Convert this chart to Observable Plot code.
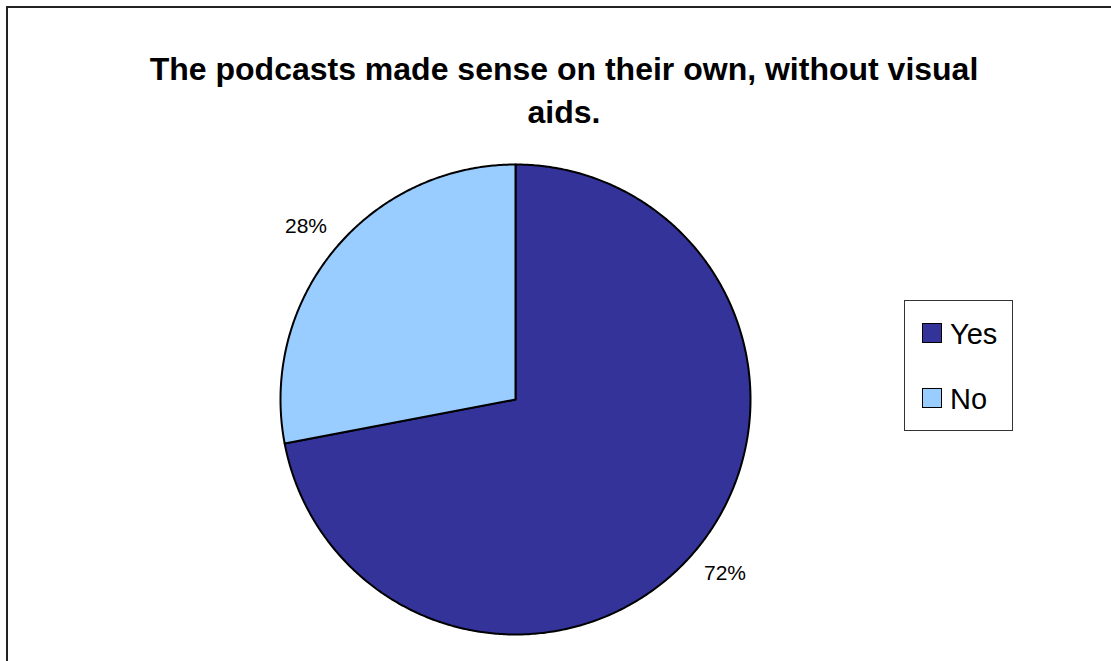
<!DOCTYPE html>
<html><head><meta charset="utf-8">
<script src="https://cdn.jsdelivr.net/npm/d3@7"></script>
<script src="https://cdn.jsdelivr.net/npm/@observablehq/plot@0.6"></script>
<style>
html,body{margin:0;padding:0;background:#fff;}
#wrap{position:relative;width:1111px;height:661px;overflow:hidden;font-family:"Liberation Sans",Arial,sans-serif;background:#fff;}
#frame{position:absolute;left:6px;top:6px;width:1200px;height:800px;border-left:2px solid #222;border-top:2px solid #222;}
#chart{position:absolute;left:0;top:0;}
#title{position:absolute;left:64px;width:1000px;top:48px;text-align:center;font-weight:bold;font-size:32px;line-height:43px;color:#000;}
#legend{position:absolute;left:904px;top:300px;width:109px;height:131px;border:1px solid #333;box-sizing:border-box;background:#fff;}
.sw{position:absolute;left:17px;width:20px;height:20px;box-sizing:border-box;border:1.5px solid #000;}
.lt{position:absolute;left:45px;font-size:29px;line-height:29px;color:#000;white-space:nowrap;}
</style>
</head><body>
<div id="wrap">
  <div id="frame"></div>
  <div id="chart"></div>
  <div id="title"></div>
  <div id="legend"></div>
</div>
<script>
const titleLines = ["The podcasts made sense on their own, without visual", "aids."];
const categories = ["Yes", "No"];
const values = [72, 28];
const labels = ["72%", "28%"];
const colors = ["#333399", "#99CCFF"];

// pie geometry from the values (angles clockwise from 12 o'clock)
const arcs = d3.pie().sort(null).value(d => d)(values);
const rows = [];
arcs.forEach((a, i) => {
  rows.push({category: categories[i], px: 0, py: 0});
  const n = Math.max(2, Math.ceil((a.endAngle - a.startAngle) / (Math.PI / 360)));
  for (let k = 0; k <= n; k++) {
    const t = a.startAngle + (a.endAngle - a.startAngle) * k / n;
    rows.push({category: categories[i], px: Math.sin(t), py: Math.cos(t)});
  }
});
const labelRows = arcs.map((a, i) => {
  const m = (a.startAngle + a.endAngle) / 2;
  return {text: labels[i], px: 1.157 * Math.sin(m), py: 1.157 * Math.cos(m)};
});

const plot = Plot.plot({
  width: 1111,
  height: 661,
  margin: 0,
  style: {fontFamily: "'Liberation Sans', Arial, sans-serif", background: "transparent", overflow: "visible"},
  x: {domain: [-1, 1], range: [280, 750], axis: null},
  y: {domain: [-1, 1], range: [634, 164], axis: null},
  color: {domain: categories, range: colors},
  marks: [
    Plot.line(rows, {x: "px", y: "py", z: "category", fill: "category", stroke: "#000", strokeWidth: 2, strokeLinejoin: "round", curve: "linear-closed"}),
    Plot.text(labelRows, {x: "px", y: "py", text: "text", fontSize: 21, fill: "#000", textAnchor: "middle", lineAnchor: "middle"})
  ]
});
document.getElementById("chart").appendChild(plot);

document.getElementById("title").innerHTML = titleLines.join("<br>");

const legend = document.getElementById("legend");
const swTops = [22, 87];
const txtTops = [18.5, 83.5];
categories.forEach((c, i) => {
  const sw = document.createElement("div");
  sw.className = "sw";
  sw.style.top = swTops[i] + "px";
  sw.style.background = colors[i];
  legend.appendChild(sw);
  const t = document.createElement("div");
  t.className = "lt";
  t.style.top = txtTops[i] + "px";
  t.textContent = c;
  legend.appendChild(t);
});
</script>
</body></html>
